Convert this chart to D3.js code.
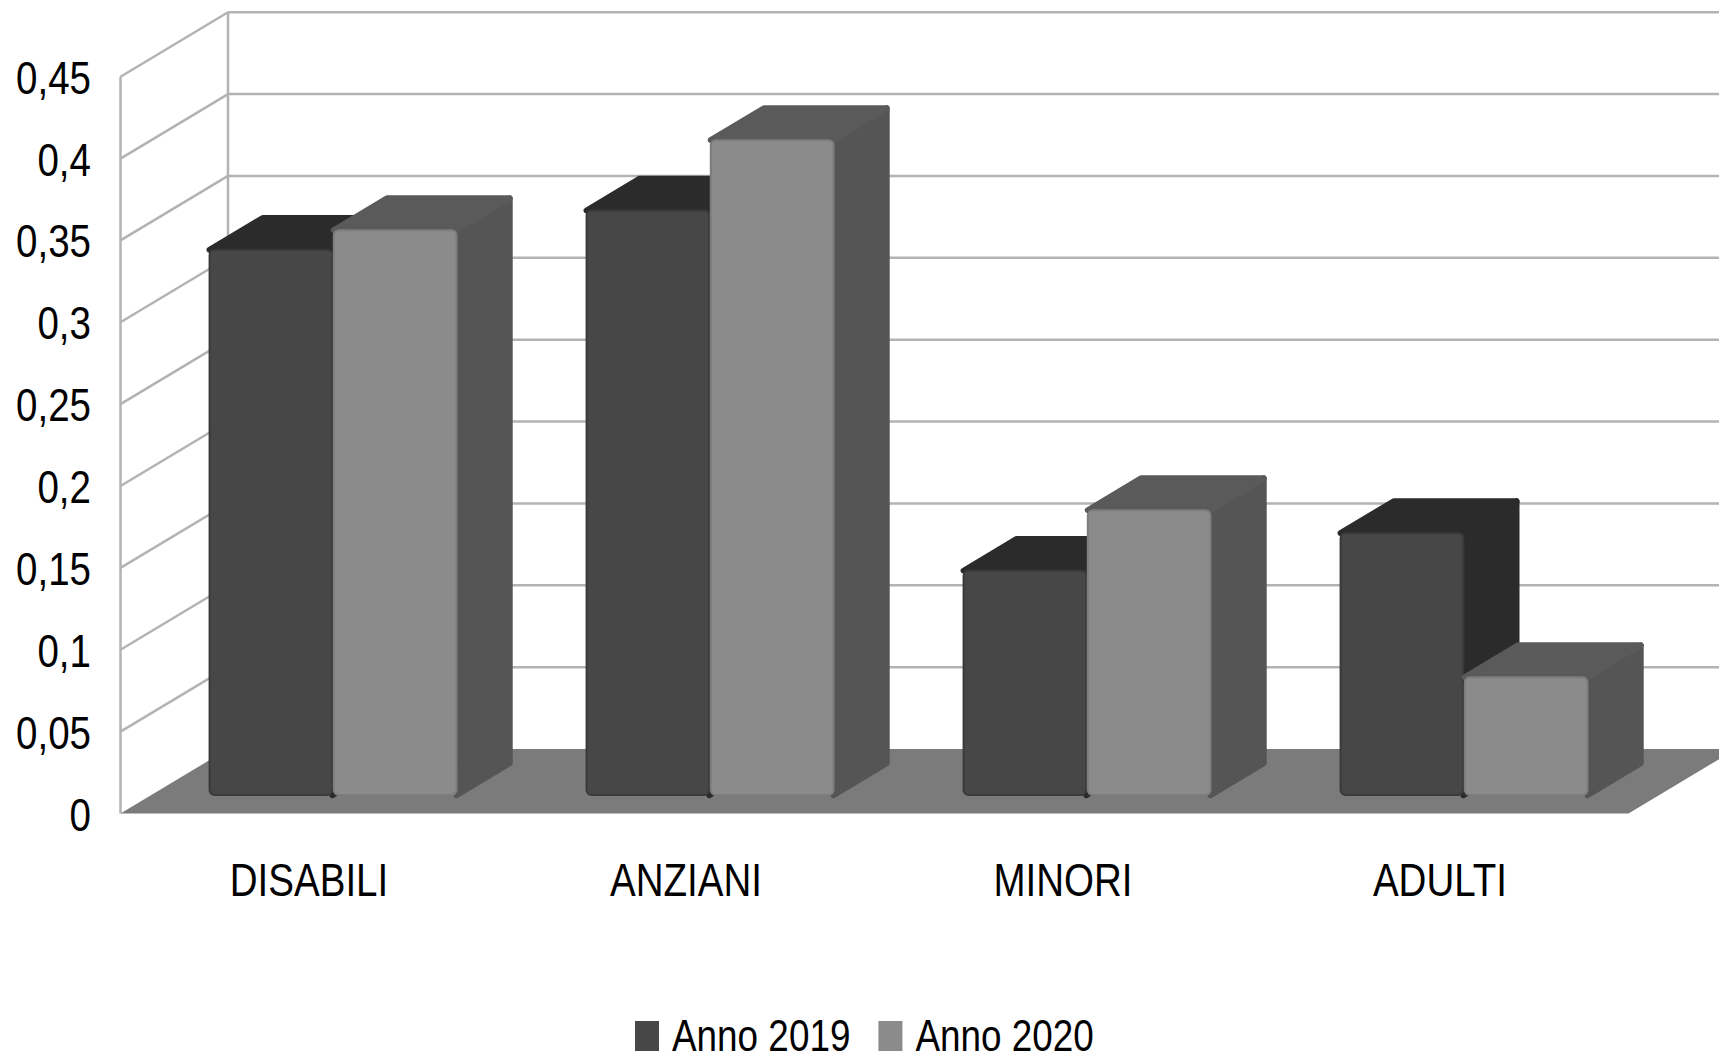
<!DOCTYPE html>
<html>
<head>
<meta charset="utf-8">
<script src="https://cdn.jsdelivr.net/npm/d3@7"></script>
<style>
  body { margin: 0; background: #fff; }
  text { font-family: "Liberation Sans", Arial, sans-serif; fill: #000; }
</style>
</head>
<body>
<script>
const categories = ["DISABILI", "ANZIANI", "MINORI", "ADULTI"];
const series = ["Anno 2019", "Anno 2020"];
const values2019 = [0.333, 0.357, 0.137, 0.160];
const values2020 = [0.345, 0.400, 0.174, 0.072];
const yTicks = [0, 0.05, 0.1, 0.15, 0.2, 0.25, 0.3, 0.35, 0.4, 0.45];
const yTickLabels = ["0", "0,05", "0,1", "0,15", "0,2", "0,25", "0,3", "0,35", "0,4", "0,45"];

const width = 1719, height = 1063;
// front plane of the 3d box
const fl = 120.5, y0 = 813.5, h = 736.8, w = 1508;
// depth offset of the box
const dx = 107.5, dy = 64.5;
const d0 = 0.285, d1 = 0.78;
// the original font is a narrow one, squeeze the regular one instead
const narrow = 0.82;

const colors = {
  "Anno 2019": {front: "#474747", top: "#2b2b2b", side: "#2b2b2b", edge: "#3a3a3a"},
  "Anno 2020": {front: "#8b8b8b", top: "#5a5a5a", side: "#555555", edge: "#7d7d7d"}
};

const svg = d3.select("body")
    .append("svg")
    .attr("width", width)
    .attr("height", height);

const y = d3.scaleLinear().domain([0, 0.45]).range([y0, y0 - h]);
const x = d3.scaleBand().domain(categories).range([fl, fl + w]);
const bw = x.bandwidth();
const xs = d3.scaleBand().domain(series).range([0.155 * bw, 0.81 * bw]).paddingInner(0.012);

const proj = (px, v, d) => [px + d * dx, y(v) - d * dy];

// back wall grid
svg.append("g")
    .selectAll("line")
    .data(yTicks.slice(1))
    .enter()
    .append("line")
    .attr("x1", fl + dx)
    .attr("x2", fl + w + dx)
    .attr("y1", d => y(d) - dy)
    .attr("y2", d => y(d) - dy)
    .attr("stroke", "#b3b3b3")
    .attr("stroke-width", 2.5);

// side wall grid
svg.append("g")
    .selectAll("line")
    .data(yTicks.slice(1))
    .enter()
    .append("line")
    .attr("x1", fl)
    .attr("x2", fl + dx)
    .attr("y1", d => y(d))
    .attr("y2", d => y(d) - dy)
    .attr("stroke", "#b3b3b3")
    .attr("stroke-width", 2.5);

// wall edges
svg.append("line")
    .attr("x1", fl).attr("x2", fl)
    .attr("y1", y(0.45)).attr("y2", y(0))
    .attr("stroke", "#b3b3b3").attr("stroke-width", 2.5);
svg.append("line")
    .attr("x1", fl + dx).attr("x2", fl + dx)
    .attr("y1", y(0.45) - dy).attr("y2", y(0) - dy)
    .attr("stroke", "#b3b3b3").attr("stroke-width", 2.5);

// floor
svg.append("polygon")
    .attr("points", [
        proj(fl, 0, 0), proj(fl + w, 0, 0), proj(fl + w, 0, 1), proj(fl, 0, 1)
    ].map(p => p.join(",")).join(" "))
    .attr("fill", "#7b7b7b");

// bars
const bars = [];
categories.forEach((c, i) => {
    bars.push({cat: c, s: series[0], v: values2019[i]});
    bars.push({cat: c, s: series[1], v: values2020[i]});
});

const g = svg.selectAll(".bar")
    .data(bars)
    .enter()
    .append("g")
    .attr("class", "bar");

const poly = pts => pts.map(p => p.join(",")).join(" ");

g.append("polygon")
    .attr("points", d => {
        const xa = x(d.cat) + xs(d.s) + xs.bandwidth();
        return poly([proj(xa, 0, d0), proj(xa, d.v, d0), proj(xa, d.v, d1), proj(xa, 0, d1)]);
    })
    .attr("fill", d => colors[d.s].side)
    .attr("stroke", d => colors[d.s].side)
    .attr("stroke-width", 6)
    .attr("stroke-linejoin", "round");

g.append("polygon")
    .attr("points", d => {
        const xa = x(d.cat) + xs(d.s);
        const xb = xa + xs.bandwidth();
        return poly([proj(xa, d.v, d0), proj(xb, d.v, d0), proj(xb, d.v, d1), proj(xa, d.v, d1)]);
    })
    .attr("fill", d => colors[d.s].top)
    .attr("stroke", d => colors[d.s].top)
    .attr("stroke-width", 6)
    .attr("stroke-linejoin", "round");

g.append("rect")
    .attr("x", d => proj(x(d.cat) + xs(d.s), 0, d0)[0])
    .attr("y", d => proj(0, d.v, d0)[1])
    .attr("width", xs.bandwidth())
    .attr("height", d => y(0) - y(d.v))
    .attr("rx", 5)
    .attr("fill", d => colors[d.s].front)
    .attr("stroke", d => colors[d.s].edge)
    .attr("stroke-width", 2);

// y labels
svg.append("g")
    .selectAll("text")
    .data(yTicks)
    .enter()
    .append("text")
    .attr("transform", d => `translate(91, ${y(d) + 17}) scale(${narrow}, 1)`)
    .attr("text-anchor", "end")
    .style("font-size", "47px")
    .text((d, i) => yTickLabels[i]);

// category labels
svg.append("g")
    .selectAll("text")
    .data(categories)
    .enter()
    .append("text")
    .attr("transform", d => `translate(${x(d) + bw / 2}, 896) scale(${narrow}, 1)`)
    .attr("text-anchor", "middle")
    .style("font-size", "47px")
    .text(d => d);

// legend
const leg = svg.append("g").attr("transform", "translate(635, 1021)");
let lx = 0;
series.forEach(s => {
    leg.append("rect")
        .attr("x", lx).attr("y", 0)
        .attr("width", 24).attr("height", 30)
        .attr("fill", colors[s].front);
    const t = leg.append("text")
        .attr("transform", `translate(${lx + 37}, 30) scale(${narrow}, 1)`)
        .style("font-size", "45px")
        .text(s);
    lx += 37 + t.node().getComputedTextLength() * narrow + 28;
});
</script>
</body>
</html>
